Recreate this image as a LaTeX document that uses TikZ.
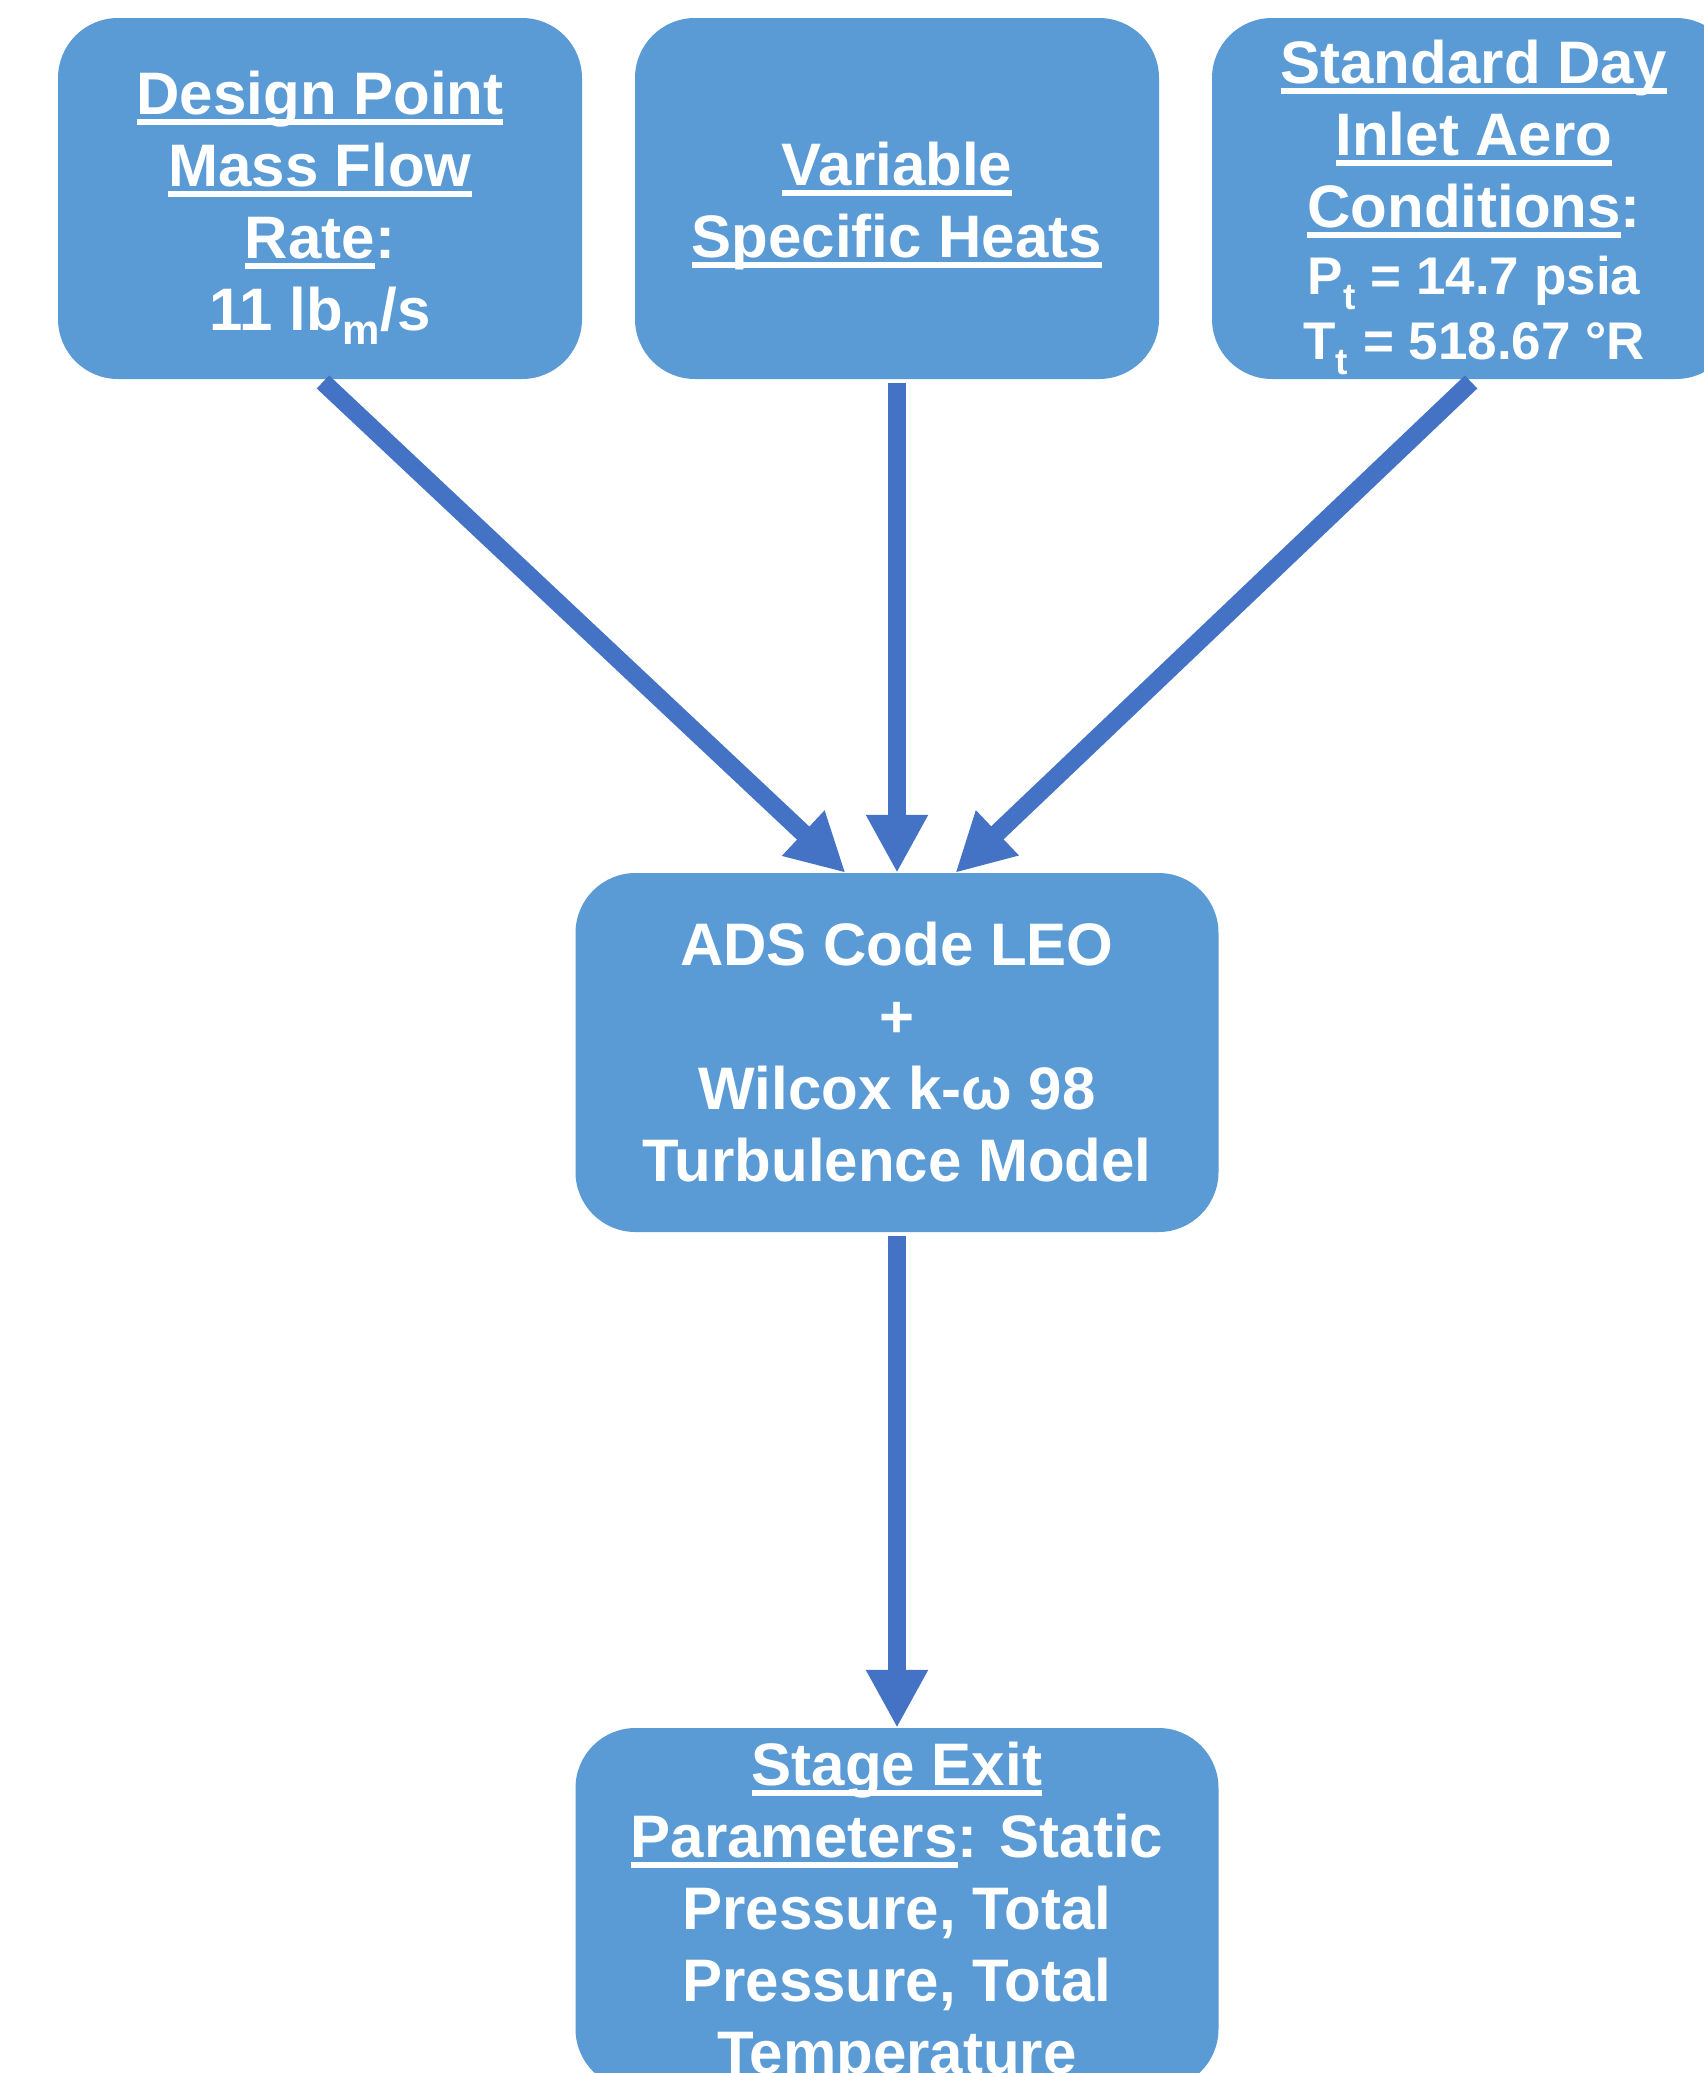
\documentclass[tikz,border=0pt]{standalone}
\usepackage{fontspec}
\setmainfont{Liberation Sans}
\usetikzlibrary{arrows.meta}
\definecolor{boxblue}{HTML}{5B9BD5}
\definecolor{arrowblue}{HTML}{4472C4}
\newcommand\myul[1]{\sbox0{#1}\rlap{\rule[-0.18em]{\wd0}{0.095em}}\usebox0}
\begin{document}
\begin{tikzpicture}[x=1pt,y=-1pt,
  box/.style={draw=none, fill=boxblue, rounded corners=60pt, minimum width=524pt,
    minimum height=361pt, inner sep=0pt},
  txt/.style={inner sep=0pt, text=white, align=center,
    font=\bfseries\fontsize{60}{72}\selectfont},
  flow/.style={draw=arrowblue, line width=18pt,
    -{Triangle[width=58pt,length=58pt]}, shorten <=4pt}]
\useasboundingbox (0,0) rectangle (1704,2073);
\fill[white] (0,0) rectangle (1704,2073);
\node[box] (dp) at (320,198.5) {};
\node[box] (vs) at (897,198.5) {};
\node[box] (sd) at (1474,198.5) {};
\node[box, minimum width=643pt, minimum height=359pt] (ads) at (897,1052.5) {};
\node[box, minimum width=643pt, minimum height=361pt] (se) at (897,1908.5) {};
\node[txt] (dpt) at ([yshift=-9pt]dp.center) {\myul{Design Point}\\ \myul{Mass Flow}\\ \myul{Rate}:\\ 11 lb\textsubscript{m}/s};
\node[txt] (vst) at ([yshift=-7pt]vs.center) {\myul{Variable}\\ \myul{Specific Heats}};
\node[txt] (sdt) at ([yshift=-9pt]sd.center) {\myul{Standard Day}\\ \myul{Inlet Aero}\\ \myul{Conditions}:\\[-5pt]
  {\fontsize{53}{64}\selectfont P\textsubscript{t} = 14.7 psia}\\[-7pt]
  {\fontsize{53}{64}\selectfont T\textsubscript{t} = 518.67 °R}};
\node[txt] (adst) at (ads.center) {ADS Code LEO\\ +\\ Wilcox k-ω 98\\ Turbulence Model};
\node[txt] (set) at ([yshift=-5pt]se.center) {\myul{Stage Exit}\\ \myul{Parameters}: Static\\ Pressure, Total\\ Pressure, Total\\ Temperature};
\draw[flow] (dp.south) -- (ads.106.7);
\draw[flow] (vs.south) -- (ads.north);
\draw[flow] (sd.south) -- (ads.72.3);
\draw[flow] (ads.south) -- (se.north);
\end{tikzpicture}
\end{document}
